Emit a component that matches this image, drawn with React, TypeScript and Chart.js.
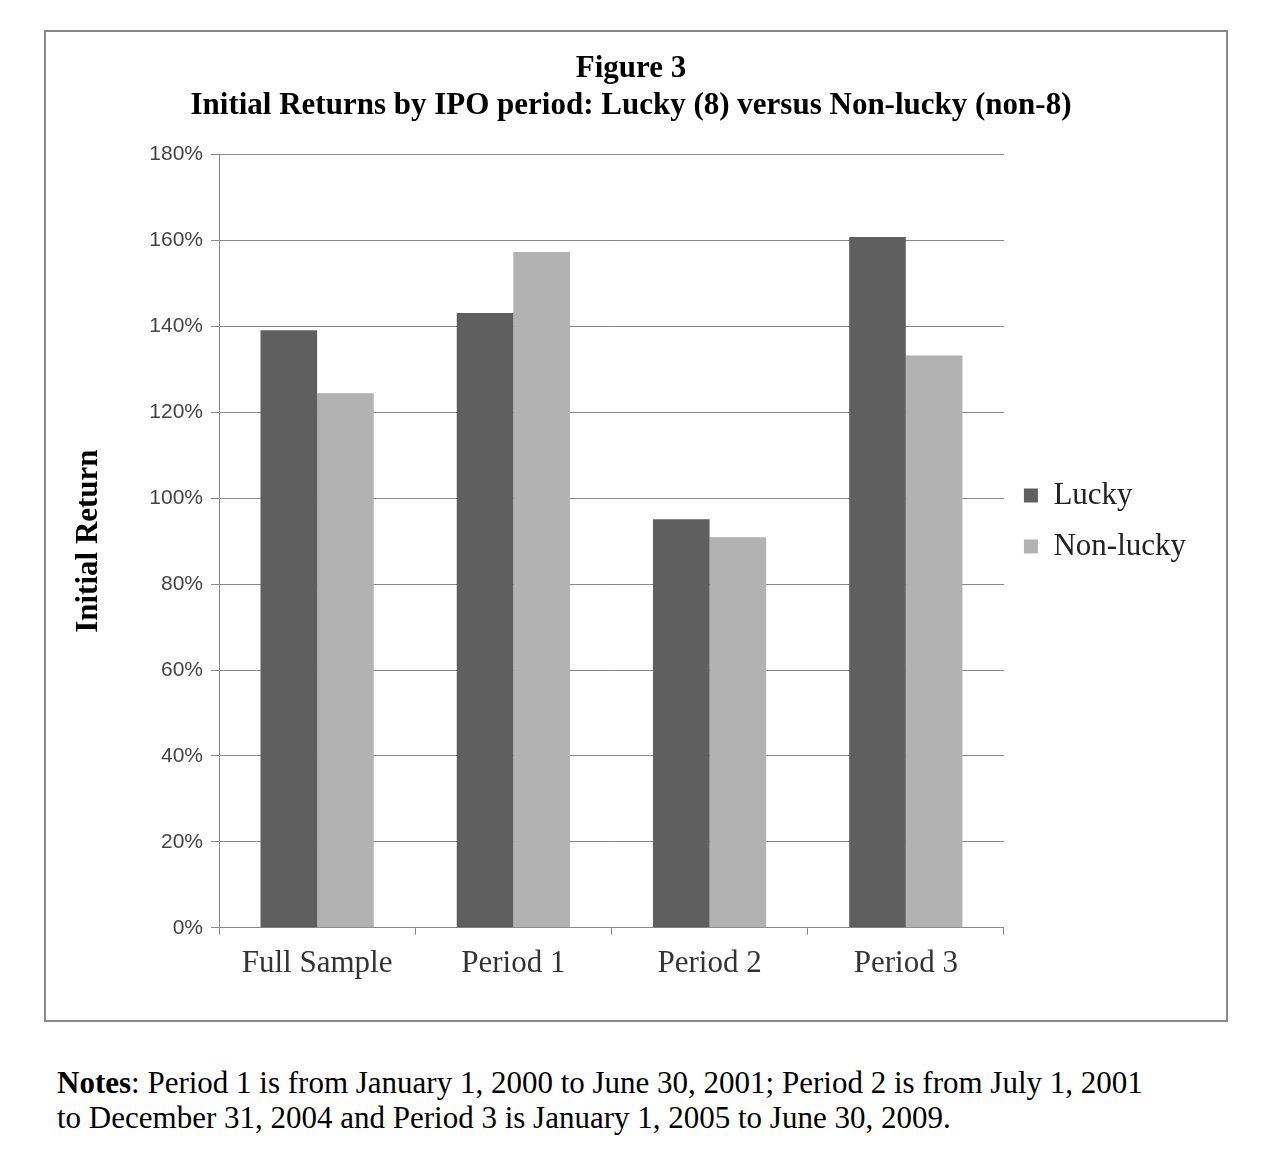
import React, { useEffect, useRef } from "react";
import { Chart, registerables } from "chart.js";
Chart.register(...registerables);

const categories = ["Full Sample", "Period 1", "Period 2", "Period 3"];
const lucky = [139.1, 143.1, 95.1, 160.8];
const nonLucky = [124.4, 157.3, 90.9, 133.2];

export default function App() {
  const ref = useRef<HTMLCanvasElement>(null);
  useEffect(() => {
    const c = new Chart(ref.current!, {
      type: "bar",
      data: {
        labels: categories,
        datasets: [
          { label: "Lucky", data: lucky, backgroundColor: "#5f5f5f" },
          { label: "Non-lucky", data: nonLucky, backgroundColor: "#b2b2b2" },
        ],
      },
      options: {
        animation: false,
        responsive: false,
        layout: { padding: { left: 20, right: 30, top: 18, bottom: 28 } },
        datasets: { bar: { categoryPercentage: 0.577, barPercentage: 1 } } as any,
        plugins: {
          title: {
            display: true,
            text: ["Figure 3", "Initial Returns by IPO period: Lucky (8) versus Non-lucky (non-8)"],
            font: { family: "Liberation Serif", size: 31, weight: "bold" },
            color: "#000",
            padding: { top: 0, bottom: 30 },
            lineHeight: 1.2,
          },
          legend: {
            position: "right",
            labels: {
              font: { family: "Liberation Serif", size: 31 },
              color: "#222",
              boxWidth: 14,
              boxHeight: 14,
              padding: 20,
            },
          },
          tooltip: { enabled: false },
        },
        scales: {
          x: {
            grid: { display: true, drawOnChartArea: false, drawTicks: true, tickLength: 7, color: "#888" },
            border: { color: "#888" },
            ticks: { font: { family: "Liberation Serif", size: 31 }, color: "#333", padding: 10 },
          },
          y: {
            min: 0,
            max: 180,
            afterFit: (s: any) => { s.width = 153; },
            grid: { color: "#888", tickLength: 8 },
            border: { color: "#888" },
            ticks: {
              stepSize: 20,
              font: { family: "Liberation Sans", size: 21 },
              color: "#444",
              padding: 8,
              callback: (v: any) => v + "%",
            },
            title: {
              display: true,
              text: "Initial Return",
              font: { family: "Liberation Serif", size: 31, weight: "bold" },
              color: "#000",
              padding: { bottom: 8 },
            },
          },
        },
      },
    });
    return () => c.destroy();
  }, []);
  return (
    <div style={{ position: "relative", width: 1272, height: 1150 }}>
      <div style={{ position: "absolute", left: 36, top: 22, width: 1180, height: 988, border: "2px solid #888" }}>
        <canvas ref={ref} width={1180} height={988} />
      </div>
      <div style={{ position: "absolute", left: 49, top: 1057, fontFamily: "Liberation Serif", fontSize: 31, lineHeight: "35px", color: "#000", width: 1220 }}>
        <b>Notes</b>: Period 1 is from January 1, 2000 to June 30, 2001; Period 2 is from July 1, 2001
        <br />to December 31, 2004 and Period 3 is January 1, 2005 to June 30, 2009.
      </div>
    </div>
  );
}
